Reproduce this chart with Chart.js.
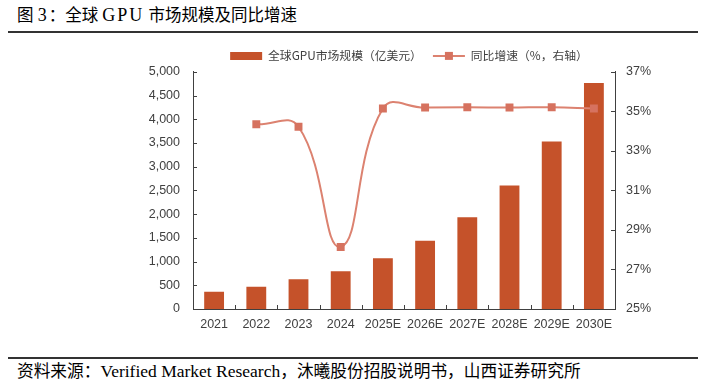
<!DOCTYPE html>
<html>
<head>
<meta charset="utf-8">
<script src="https://cdn.jsdelivr.net/npm/chart.js@4.4.1/dist/chart.umd.min.js"></script>
<style>
  body { margin: 0; width: 706px; height: 390px; background: #fff; position: relative; overflow: hidden; }
  .cap { position: absolute; left: 17px; font-family: "Liberation Serif", "Noto Sans CJK SC", serif; color: #000; white-space: nowrap; }
  #title { top: 2px; font-size: 16.5px; }
  #title .en { font-size: 18px; letter-spacing: 2px; }
  #source { top: 358px; font-size: 16.7px; }
  #source .en { font-size: 17.5px; }
  .rule { position: absolute; left: 8px; width: 690px; height: 1.5px; background: #333; }
  #canvasCombo { position: absolute; left: 0; top: 0; }
</style>
</head>
<body>
<div id="title" class="cap">图 <span class="en">3</span>：全球 <span class="en">GPU</span> 市场规模及同比增速</div>
<div class="rule" style="top:31px"></div>
<div class="rule" style="top:357px"></div>
<div id="source" class="cap">资料来源：<span class="en">Verified Market Research</span>，沐曦股份招股说明书，山西证券研究所</div>
<canvas id="canvasCombo" width="706" height="390"></canvas>

<script>
// 年份
var labels = ['2021', '2022', '2023', '2024', '2025E', '2026E', '2027E', '2028E', '2029E', '2030E'];
// 全球GPU市场规模（亿美元）
var marketSize = [365, 470, 627, 795, 1070, 1441, 1934, 2601, 3530, 4762];
// 同比增速（%）
var growthRate = [null, 34.35, 34.22, 28.14, 35.14, 35.19, 35.21, 35.19, 35.21, 35.14];

var barColor = '#C5522A';
var lineColor = '#DC8270';
var markerColor = '#D6725F';
var axisColor = '#404040';

// 坐標軸刻度朝內 + 圖例位置
var innerTicks = {
  id: 'innerTicks',
  afterLayout: function (chart) {
    // 圖例中心對齊
    chart.legend.left = 112;
    chart.legend.right = 706;
  },
  afterDraw: function (chart) {
    var ctx = chart.ctx;
    var area = chart.chartArea;
    ctx.save();
    ctx.strokeStyle = axisColor;
    ctx.lineWidth = 1;
    ctx.beginPath();
    var y = chart.scales.y;
    y.ticks.forEach(function (t, i) {
      var p = Math.round(y.getPixelForTick(i)) + 0.5;
      ctx.moveTo(area.left, p); ctx.lineTo(area.left + 4, p);
    });
    var y1 = chart.scales.y1;
    y1.ticks.forEach(function (t, i) {
      var p = Math.round(y1.getPixelForTick(i)) + 0.5;
      ctx.moveTo(area.right - 4, p); ctx.lineTo(area.right, p);
    });
    var x = chart.scales.x;
    for (var i = 1; i < labels.length; i++) {
      var px = Math.round((x.getPixelForValue(i - 1) + x.getPixelForValue(i)) / 2) + 0.5;
      ctx.moveTo(px, area.bottom); ctx.lineTo(px, area.bottom - 4);
    }
    ctx.stroke();
    // 圖例的方塊標記
    var box = chart.legend.legendHitBoxes[1];
    if (box) {
      ctx.fillStyle = markerColor;
      var cx = box.left + 16, cy = box.top + box.height / 2;
      ctx.fillRect(cx - 4, cy - 4, 8, 8);
    }
    ctx.restore();
  }
};

var ctx = document.getElementById('canvasCombo').getContext('2d');
var chart = new Chart(ctx, {
  data: {
    labels: labels,
    datasets: [{
      type: 'line',
      label: '同比增速（%，右轴）',
      data: growthRate,
      yAxisID: 'y1',
      borderColor: lineColor,
      backgroundColor: markerColor,
      borderWidth: 2,
      tension: 0.45,
      pointStyle: 'rect',
      pointRadius: 5.6,
      pointBorderWidth: 0,
      pointBackgroundColor: markerColor,
      order: 0
    }, {
      type: 'bar',
      label: '全球GPU市场规模（亿美元）',
      data: marketSize,
      yAxisID: 'y',
      backgroundColor: barColor,
      categoryPercentage: 1,
      barPercentage: 0.47,
      order: 1
    }]
  },
  options: {
    responsive: false,
    animation: false,
    layout: { padding: { top: 39, left: 0, right: 0, bottom: 0 } },
    plugins: {
      tooltip: { enabled: false },
      legend: {
        reverse: true,
        labels: {
          usePointStyle: true,
          pointStyleWidth: 32,
          boxHeight: 8,
          padding: 11,
          color: '#404040',
          font: { family: '"Noto Sans CJK SC", sans-serif', size: 11.8 },
          generateLabels: function (chart) {
            return chart.data.datasets.map(function (ds, i) {
              var isLine = ds.type === 'line';
              return {
                text: ds.label,
                datasetIndex: i,
                fillStyle: isLine ? lineColor : barColor,
                strokeStyle: isLine ? lineColor : barColor,
                lineWidth: isLine ? 2 : 0,
                pointStyle: isLine ? 'line' : 'rect',
                fontColor: '#404040'
              };
            });
          }
        }
      }
    },
    scales: {
      x: {
        grid: { display: false, drawTicks: false },
        border: { display: true, color: axisColor, width: 1 },
        ticks: { color: '#404040', padding: 8, maxRotation: 0, font: { family: '"Liberation Sans", Arial', size: 12.5 } },
        afterFit: function (s) { s.height = 81; }
      },
      y: {
        position: 'left',
        min: 0, max: 5000,
        grid: { display: false, drawTicks: false },
        border: { display: true, color: axisColor, width: 1 },
        ticks: {
          stepSize: 500, padding: 13, color: '#404040',
          font: { family: '"Liberation Sans", Arial', size: 12.5 },
          callback: function (v) { return v.toLocaleString('en-US'); }
        },
        afterFit: function (s) { s.width = 193; }
      },
      y1: {
        position: 'right',
        min: 25, max: 37,
        grid: { display: false, drawTicks: false },
        border: { display: true, color: axisColor, width: 1 },
        ticks: {
          stepSize: 2, padding: 11, color: '#404040',
          font: { family: '"Liberation Sans", Arial', size: 12.5 },
          callback: function (v) { return v + '%'; }
        },
        afterFit: function (s) { s.width = 91; }
      }
    }
  },
  plugins: [innerTicks]
});
</script>
</body>
</html>
